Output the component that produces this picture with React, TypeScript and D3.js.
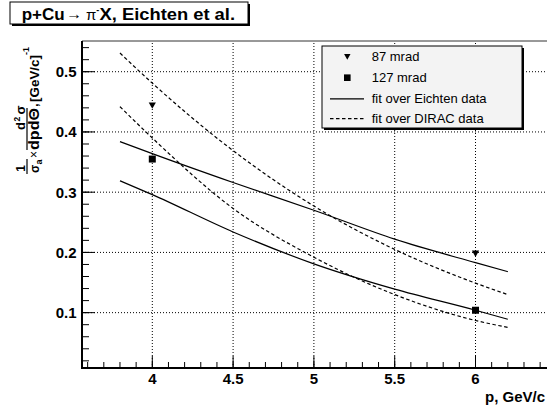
import React from "react";
import * as d3 from "d3";

const W = 547;
const H = 407;

// ---- data ----
const fitX = [3.8, 4.0, 4.5, 5.0, 5.5, 6.0, 6.2];
const eichten87 = [0.384, 0.364, 0.316, 0.27, 0.222, 0.183, 0.168];
const eichten127 = [0.319, 0.296, 0.234, 0.181, 0.139, 0.104, 0.089];
const dirac87 = [0.531, 0.481, 0.369, 0.277, 0.205, 0.149, 0.13];
const dirac127 = [0.442, 0.39, 0.273, 0.192, 0.13, 0.087, 0.0755];

const dataP = [4, 6];
const mrad87 = [0.444, 0.198];
const mrad127 = [0.355, 0.104];

const xTickValues = [4, 4.5, 5, 5.5, 6];
const xTickLabels = ["4", "4.5", "5", "5.5", "6"];
const yTickValues = [0.1, 0.2, 0.3, 0.4, 0.5];
const yTickLabels = ["0.1", "0.2", "0.3", "0.4", "0.5"];

const legendLabels = ["87 mrad", "127 mrad", "fit over Eichten data", "fit over DIRAC data"];

const FONT = "'Liberation Sans', Arial, Helvetica, sans-serif";

export default function App() {
  const left = 82, right = 545, top = 41, bottom = 368;
  const x = d3.scaleLinear().domain([3.565, 6.43]).range([left, right]);
  const y = d3.scaleLinear().domain([0.0081, 0.551]).range([bottom, top]);

  const xMinor = d3.range(36, 65).map((v) => v / 10);
  const yMinor = d3.range(1, 28).map((v) => (v * 2) / 100);

  const line = d3
    .line<number>()
    .x((_, i) => x(fitX[i]))
    .y((d) => y(d))
    .curve(d3.curveMonotoneX);

  const tri = (cx: number, cy: number, s = 3.6) =>
    `M${cx - s},${cy - s * 0.85}L${cx + s},${cy - s * 0.85}L${cx},${cy + s * 0.95}Z`;

  const dash = "3.5,2.5";

  const lg = { x: 322, y: 46, w: 200, h: 82 };
  const rowY = [56.7, 77.7, 98.8, 118.6];

  return (
    <svg
      width={W}
      height={H}
      style={{ position: "absolute", left: 0, top: 0, background: "#fff" }}
      fontFamily={FONT}
    >
      <rect x={0} y={0} width={W} height={H} fill="#fff" />
      {/* grid */}
      {xTickValues.map((v) => (
        <line key={"gx" + v} x1={x(v)} x2={x(v)} y1={bottom} y2={top} stroke="#000" strokeWidth={1} strokeDasharray="1,2" />
      ))}
      {yTickValues.map((v) => (
        <line key={"gy" + v} x1={left} x2={right} y1={y(v)} y2={y(v)} stroke="#000" strokeWidth={1} strokeDasharray="1,2" />
      ))}
      {/* frame top */}
      <line x1={left} x2={W} y1={top} y2={top} stroke="#333" strokeWidth={1} />
      {/* ticks */}
      {xMinor.map((v) => (
        <line key={"xm" + v} x1={x(v)} x2={x(v)} y1={bottom} y2={bottom - 6} stroke="#000" strokeWidth={1} />
      ))}
      {xTickValues.map((v) => (
        <line key={"xM" + v} x1={x(v)} x2={x(v)} y1={bottom} y2={bottom - 12} stroke="#000" strokeWidth={1} />
      ))}
      {yMinor.map((v) => (
        <line key={"ym" + v} x1={left} x2={left + 7} y1={y(v)} y2={y(v)} stroke="#000" strokeWidth={1} />
      ))}
      {yTickValues.map((v) => (
        <line key={"yM" + v} x1={left} x2={left + 13} y1={y(v)} y2={y(v)} stroke="#000" strokeWidth={1} />
      ))}
      {/* axes */}
      <line x1={left} x2={left} y1={top} y2={bottom + 1} stroke="#000" strokeWidth={2} />
      <line x1={left - 1} x2={W} y1={bottom} y2={bottom} stroke="#000" strokeWidth={2} />

      {/* tick labels */}
      {xTickValues.map((v, i) => (
        <text key={"xl" + v} x={x(v)} y={384} textAnchor="middle" fontSize={15} fontWeight="bold">
          {xTickLabels[i]}
        </text>
      ))}
      {yTickValues.map((v, i) => (
        <text key={"yl" + v} x={76.5} y={y(v) + 5.4} textAnchor="end" fontSize={15} fontWeight="bold">
          {yTickLabels[i]}
        </text>
      ))}
      <text x={545} y={402} textAnchor="end" fontSize={15} fontWeight="bold">
        p, GeV/c
      </text>

      {/* y-axis title */}
      <g transform="translate(27,173) rotate(-90)" fontWeight="bold">
        <text x={4.5} y={-2} textAnchor="middle" fontSize={12}>1</text>
        <line x1={-1} x2={14} y1={0} y2={0} stroke="#000" strokeWidth={1.2} />
        <text x={0} y={12} fontSize={12}>σ</text>
        <text x={8.5} y={14.5} fontSize={9}>a</text>
        <text x={18.5} y={10.5} textAnchor="middle" fontSize={12} fontWeight="normal">×</text>
        <line x1={23} x2={65} y1={0} y2={0} stroke="#000" strokeWidth={1.2} />
        <text x={43} y={-2} fontSize={13}>d</text>
        <text x={51.5} y={-7} fontSize={8.5}>2</text>
        <text x={58.5} y={-2} fontSize={13}>σ</text>
        <text x={23} y={12} fontSize={14} textLength={42} lengthAdjust="spacingAndGlyphs">dpdΘ</text>
        <text x={66} y={11} fontSize={13}>,</text>
        <text x={71} y={12} fontSize={13.5} textLength={47} lengthAdjust="spacingAndGlyphs">[GeV/c]</text>
        <text x={118} y={2} fontSize={9}>-1</text>
      </g>

      {/* fits */}
      <path d={line(eichten87) || ""} fill="none" stroke="#000" strokeWidth={1.2} />
      <path d={line(eichten127) || ""} fill="none" stroke="#000" strokeWidth={1.2} />
      <path d={line(dirac87) || ""} fill="none" stroke="#000" strokeWidth={1.2} strokeDasharray={dash} />
      <path d={line(dirac127) || ""} fill="none" stroke="#000" strokeWidth={1.2} strokeDasharray={dash} />

      {/* data */}
      {dataP.map((p, i) => (
        <path key={"t" + i} d={tri(x(p), y(mrad87[i]))} fill="#000" />
      ))}
      {dataP.map((p, i) => (
        <rect key={"s" + i} x={x(p) - 3.5} y={y(mrad127[i]) - 3.5} width={7} height={7} fill="#000" />
      ))}

      {/* legend */}
      <rect x={lg.x + 2} y={lg.y + 2} width={lg.w} height={lg.h} fill="#000" />
      <rect x={lg.x} y={lg.y} width={lg.w} height={lg.h} fill="#f3f3f3" stroke="#000" strokeWidth={1} />
      <path d={tri(347.3, rowY[0], 3.2)} fill="#000" />
      <rect x={344} y={rowY[1] - 3.3} width={6.6} height={6.6} fill="#000" />
      <line x1={330} x2={364} y1={rowY[2]} y2={rowY[2]} stroke="#000" strokeWidth={1.2} />
      <line x1={330} x2={364} y1={rowY[3]} y2={rowY[3]} stroke="#000" strokeWidth={1.2} strokeDasharray={dash} />
      {legendLabels.map((t, i) => (
        <text key={t} x={371.7} y={rowY[i] + 4.6} fontSize={13}>
          {t}
        </text>
      ))}

      {/* title */}
      <rect x={12} y={4} width={238} height={22} fill="#000" />
      <rect x={10} y={2} width={238} height={22} fill="#fff" stroke="#000" strokeWidth={1} />
      <text x={21.7} y={20} fontSize={16} fontWeight="bold" textLength={43} lengthAdjust="spacingAndGlyphs">p+Cu</text>
      <text x={66} y={19} fontSize={15} textLength={16} lengthAdjust="spacingAndGlyphs">→</text>
      <text x={86} y={20} fontSize={15}>
        π<tspan dy={-7} fontSize={9} fontWeight="bold">-</tspan>
      </text>
      <text x={99.5} y={20} fontSize={16} fontWeight="bold" textLength={135.5} lengthAdjust="spacingAndGlyphs">X, Eichten et al.</text>
    </svg>
  );
}
